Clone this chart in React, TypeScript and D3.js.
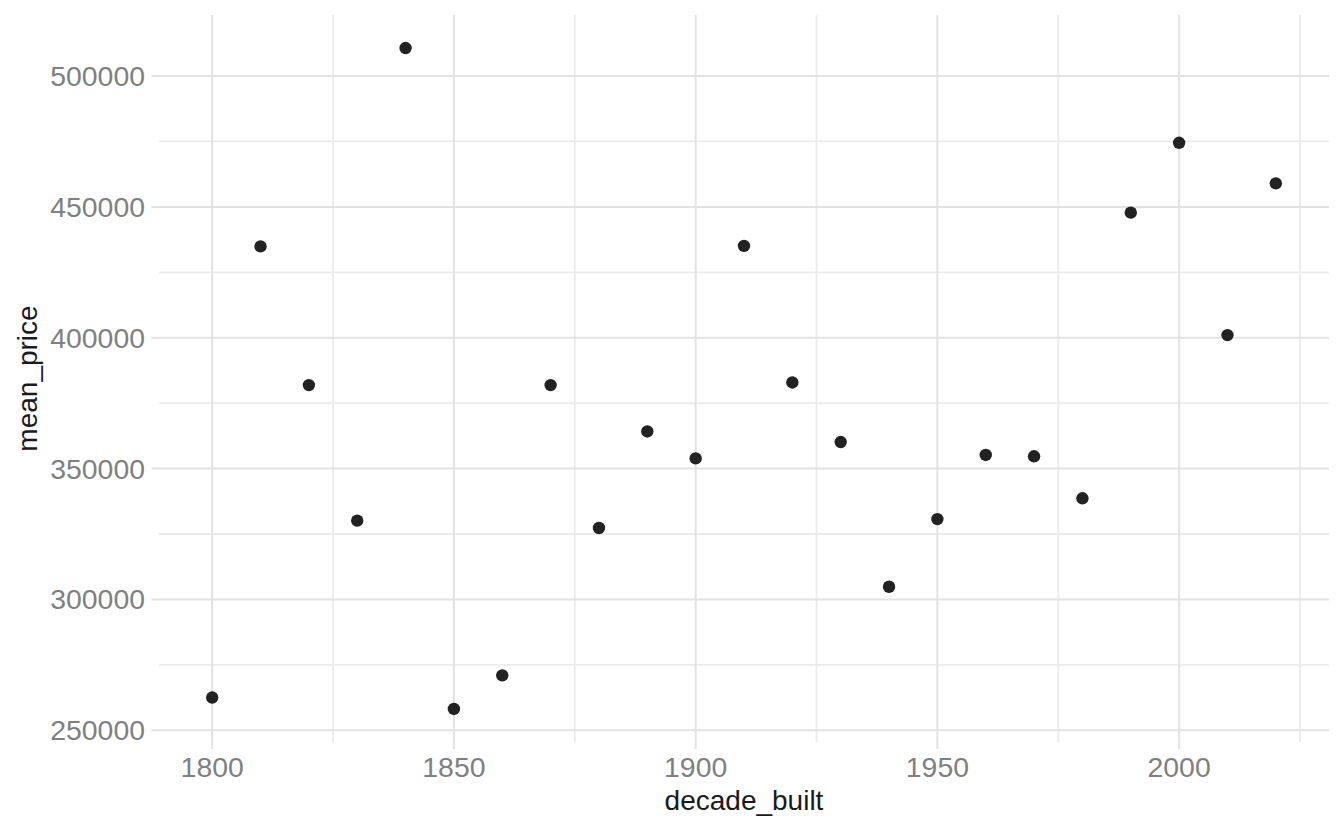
import React from 'react';
import * as d3 from 'd3';

// decade the houses were built and their mean sale price
const decades = [1800, 1810, 1820, 1830, 1840, 1850, 1860, 1870, 1880, 1890, 1900, 1910,
  1920, 1930, 1940, 1950, 1960, 1970, 1980, 1990, 2000, 2010, 2020];
const meanPrice = [262500, 434900, 381900, 330100, 510700, 258150, 271000, 381900, 327300,
  364200, 353900, 435100, 382900, 360150, 304850, 330700, 355200, 354700, 338650, 447800,
  474500, 401000, 459000];

const xLabel = 'decade_built';
const yLabel = 'mean_price';

const width = 1344;
const height = 830;
const margin = { top: 15, right: 15, bottom: 88, left: 159 };

const font = '"Liberation Sans", Arial, Helvetica, sans-serif';

// ggplot style 5% expansion on both sides
const expand = (ext: [number, number]): [number, number] => {
  const pad = (ext[1] - ext[0]) * 0.05;
  return [ext[0] - pad, ext[1] + pad];
};

const App: React.FC = () => {
  const x = d3.scaleLinear()
    .domain(expand(d3.extent(decades) as [number, number]))
    .range([margin.left, width - margin.right]);
  const y = d3.scaleLinear()
    .domain(expand(d3.extent(meanPrice) as [number, number]))
    .range([height - margin.bottom, margin.top]);

  const xTicks = x.ticks(5);
  const yTicks = y.ticks(6);
  const xStep = xTicks[1] - xTicks[0];
  const yStep = yTicks[1] - yTicks[0];
  const [x0, x1] = x.domain();
  const [y0, y1] = y.domain();

  // minor breaks halfway between the major ones
  const xMinor = d3.range(xTicks[0] - xStep / 2, x1, xStep).filter(v => v >= x0);
  const yMinor = d3.range(yTicks[0] - yStep / 2, y1, yStep).filter(v => v >= y0);

  const left = margin.left;
  const right = width - margin.right;
  const top = margin.top;
  const bottom = height - margin.bottom;

  return (
    <svg width={width} height={height} style={{ position: 'absolute', left: 0, top: 0, background: '#fff' }}>
      {/* minor grid */}
      <g stroke="#ebebeb" strokeWidth={1.8}>
        {xMinor.map(v => <line key={'xm' + v} x1={x(v)} x2={x(v)} y1={top} y2={bottom} />)}
        {yMinor.map(v => <line key={'ym' + v} x1={left} x2={right} y1={y(v)} y2={y(v)} />)}
      </g>
      {/* major grid plus ticks in the same grey */}
      <g stroke="#e2e2e2" strokeWidth={2}>
        {xTicks.map(v => <line key={'x' + v} x1={x(v)} x2={x(v)} y1={top} y2={bottom + 7} />)}
        {yTicks.map(v => <line key={'y' + v} x1={left - 7.5} x2={right} y1={y(v)} y2={y(v)} />)}
      </g>

      {/* points */}
      <g fill="#222222">
        {decades.map((d, i) => (
          <circle key={d} cx={x(d)} cy={y(meanPrice[i])} r={6.2} />
        ))}
      </g>

      {/* tick labels */}
      <g fontFamily={font} fontSize={28.4} fill="#808080">
        {xTicks.map(v => (
          <text key={'xl' + v} x={x(v)} y={bottom + 35} textAnchor="middle">{v}</text>
        ))}
        {yTicks.map(v => (
          <text key={'yl' + v} x={left - 14} y={y(v)} dy="0.35em" textAnchor="end">{v}</text>
        ))}
      </g>

      {/* axis titles */}
      <text x={(left + right) / 2} y={810} textAnchor="middle" fontFamily={font} fontSize={28} fill="#1a1a1a">
        {xLabel}
      </text>
      <text transform={`translate(37,${(top + bottom) / 2}) rotate(-90)`} textAnchor="middle"
        fontFamily={font} fontSize={28} fill="#1a1a1a">
        {yLabel}
      </text>
    </svg>
  );
};

export default App;
